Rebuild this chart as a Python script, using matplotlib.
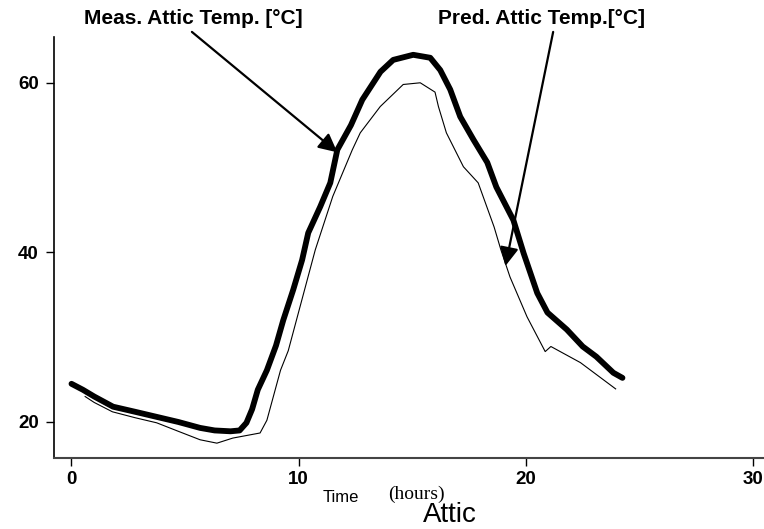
import matplotlib
matplotlib.use("Agg")
import matplotlib.pyplot as plt

meas_t = [0, 0.5, 1.0, 1.83, 2.8, 3.75, 4.7, 5.66, 6.3, 7.0, 7.4, 7.7, 7.95, 8.2,
          8.6, 9.0, 9.32, 9.76, 10.15, 10.42, 10.95, 11.39, 11.7, 12.3, 12.8,
          13.6, 14.16, 15.04, 15.79, 16.23, 16.67, 17.11, 17.69, 18.3, 18.7,
          19.45, 19.9, 20.5, 20.95, 21.8, 22.5, 23.1, 23.85, 24.25]
meas_temp = [24.5, 23.8, 23.0, 21.8, 21.2, 20.6, 20.0, 19.3, 19.0, 18.9, 19.0,
             19.9, 21.5, 23.8, 26.1, 29.0, 32.0, 35.6, 39.1, 42.3, 45.4, 48.2,
             52.1, 55.0, 58.0, 61.3, 62.7, 63.3, 62.95, 61.5, 59.2, 56.0, 53.3,
             50.6, 47.7, 43.8, 39.9, 35.2, 32.9, 30.9, 28.9, 27.7, 25.8, 25.2]

# predicted attic temperature (thin line)
pred_t = [0.6, 1.0, 1.8, 2.8, 3.75, 4.7, 5.66, 6.4, 7.1, 7.7, 8.3, 8.6, 9.2,
          9.54, 10.0, 10.73, 11.5, 12.36, 12.71, 13.59, 14.6, 15.35, 16.0,
          16.15, 16.5, 17.25, 17.9, 18.6, 18.9, 19.3, 20.05, 20.85, 21.1, 22.4,
          23.95]
pred_temp = [23.0, 22.3, 21.2, 20.5, 19.9, 18.9, 17.9, 17.5, 18.1, 18.4, 18.7,
             20.2, 26.1, 28.4, 33.0, 40.3, 46.6, 52.1, 54.1, 57.2, 59.8, 60.0,
             58.9, 57.2, 54.1, 50.1, 48.2, 43.0, 40.3, 37.1, 32.4, 28.3, 28.9,
             27.0, 23.9]

x_ticks = [0, 10, 20, 30]
y_ticks = [20, 40, 60]

W, H = 764, 529
plt.rcParams['font.family'] = ['Liberation Sans', 'DejaVu Sans']

fig = plt.figure(figsize=(W / 100, H / 100), dpi=100)
ax = fig.add_axes([54 / W, 71 / H, 1 - 54 / W, (458 - 37) / H])

ax.plot(meas_t, meas_temp, color='black', lw=4.2, solid_capstyle='round',
        solid_joinstyle='round')
ax.plot(pred_t, pred_temp, color='black', lw=0.8)

ax.set_xlim(-0.77, 30.48)
ax.set_ylim(15.75, 65.4)
ax.set_xticks(x_ticks)
ax.set_yticks(y_ticks)
ax.tick_params(direction='out', length=6, width=1, labelsize=13.5, pad=5)
ax.tick_params(axis='x', pad=3)
for lab in ax.get_xticklabels() + ax.get_yticklabels():
    lab.set_fontweight('bold')

for s in ['top', 'right']:
    ax.spines[s].set_visible(False)
ax.spines['left'].set_linewidth(1.2)
ax.spines['bottom'].set_linewidth(1.5)
ax.spines['bottom'].set_color('#444444')

arrow = dict(arrowstyle='-|>', mutation_scale=28, lw=1.6, color='black',
             shrinkA=0, shrinkB=0)
ax.annotate('', xy=(11.7, 51.8), xytext=(5.3, 66.0), arrowprops=arrow,
            annotation_clip=False)
ax.annotate('', xy=(19.1, 38.4), xytext=(21.2, 66.0), arrowprops=arrow,
            annotation_clip=False)

fig.text(193 / W, 1 - 18 / H, 'Meas. Attic Temp. [°C]', ha='center',
         va='center', fontsize=15, fontweight='bold')
fig.text(541 / W, 1 - 18 / H, 'Pred. Attic Temp.[°C]', ha='center',
         va='center', fontsize=15, fontweight='bold')

fig.text(323 / W, 1 - 497 / H, 'Time', ha='left', va='center', fontsize=12)
fig.text(388 / W, 1 - 494 / H, '(hours)', ha='left', va='center',
         fontsize=14, family='Liberation Serif')
fig.text(450 / W, 1 - 522 / H, 'Attic', ha='center', va='baseline',
         fontsize=20)

fig.savefig('out.png', dpi=100)
